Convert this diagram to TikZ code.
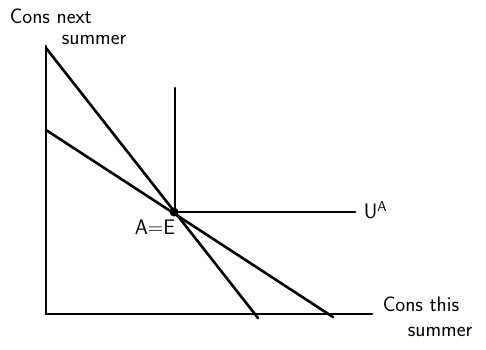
\documentclass[tikz,border=0pt]{standalone}
\usepackage{tikz}
\usetikzlibrary{calc,positioning}

\begin{document}
\begin{tikzpicture}[x=1pt, y=-1pt, line width=2.6pt, line cap=round,
    lbl/.style={font=\sffamily\fontsize{21}{23}\selectfont, inner sep=0.5pt}]
            \useasboundingbox (0, 0) rectangle (486, 349);
            % Define points
            \coordinate (O) at (46, 314);
            \coordinate (Ytop) at (46, 46);
            \coordinate (Xend) at (372, 314);
            \coordinate (P1) at (46, 48);
            \coordinate (Q1) at (258, 318);
            \coordinate (P2) at (46, 130);
            \coordinate (Q2) at (333, 317);
            \coordinate (A) at (174, 212);
            \coordinate (Utop) at (175, 88);
            \coordinate (Uend) at (355, 212);
            % Draw axes
            \draw (Ytop) -- (O) -- (Xend);
            % Budget lines
            \draw (P1) -- (Q1);
            \draw (P2) -- (Q2);
            % Indifference curve
            \draw (Utop) -- (A -| Utop) -- (Uend);
            \fill (A) circle (4.5);
            % Labels
            \node[lbl, anchor=south west] (ylbl) at (8, 25) {Cons next};
            \node[lbl, anchor=south west] (ylbl2) at (60, 46) {summer};
            \node[lbl, anchor=west] (xlbl) at (381, 304) {Cons this};
            \node[lbl, anchor=west] (xlbl2) at (406, 332) {summer};
            \node[lbl] (eq) at (155, 227) {A=E};
            \node[lbl, anchor=west] (ua) at (362, 210) {U$^{\mathsf{A}}$};
          \end{tikzpicture}
\end{document}
